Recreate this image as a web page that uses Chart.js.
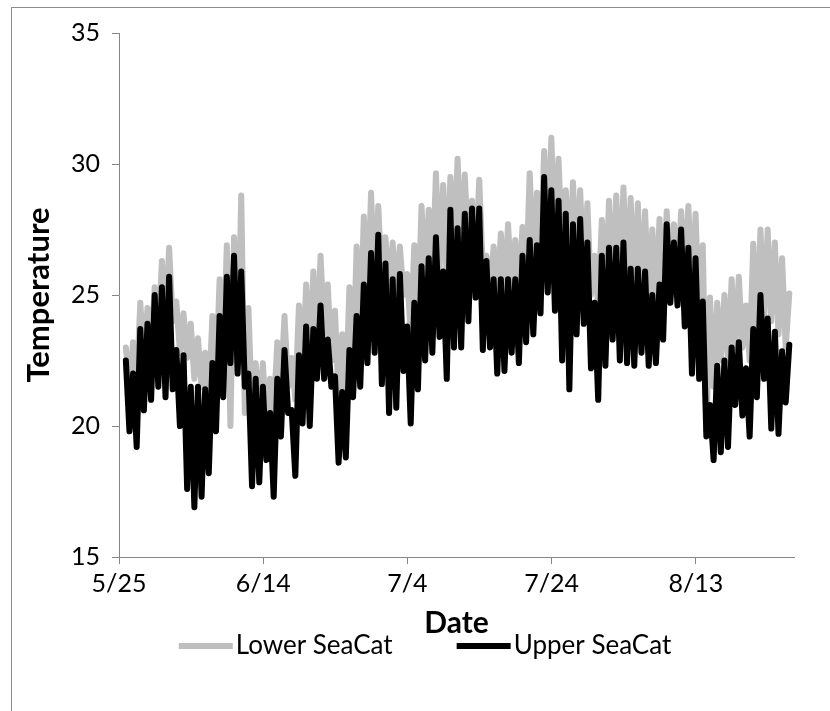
<!DOCTYPE html>
<html>
<head>
<meta charset="utf-8">
<script src="https://cdn.jsdelivr.net/npm/chart.js@4.4.1/dist/chart.umd.min.js"></script>
<style>
  html, body { margin: 0; padding: 0; background: #ffffff; }
  #wrap { position: relative; width: 830px; height: 711px; overflow: hidden; }
  #frame { position: absolute; left: 11px; top: 7px; width: 840px; height: 720px;
           border-left: 1px solid #8c8c8c; border-top: 1px solid #8c8c8c; }
  #c { position: absolute; left: 0; top: 0; }
</style>
</head>
<body>
<div id="wrap">
  <div id="frame"></div>
  <canvas id="c" width="830" height="711"></canvas>
</div>
<script>
// Daily water temperature, 25 May onward (day 0 = 5/25).
// For each day: the afternoon high and the following night's low.
const seriesNames = ['Lower SeaCat', 'Upper SeaCat'];
const tickLabels = ['5/25', '6/14', '7/4', '7/24', '8/13'];

const lowerHigh = [
  23.0, 23.2, 24.7, 24.5, 25.3, 26.3, 26.8, 24.75, 24.3, 23.9,
  23.35, 22.8, 24.2, 25.6, 26.9, 27.2, 28.8, 24.5, 22.4, 22.4,
  21.8, 23.2, 24.2, 22.6, 24.6, 25.4, 25.9, 26.5, 25.4, 24.4,
  23.5, 25.3, 26.85, 28.0, 28.9, 28.4, 27.2, 27.0, 26.85, 25.8,
  26.9, 28.4, 28.25, 29.65, 29.2, 29.5, 30.2, 29.6, 28.6, 29.4,
  26.5, 26.85, 27.35, 27.7, 27.1, 27.6, 29.65, 28.9, 30.5, 31.0,
  30.2, 29.0, 29.3, 29.0, 28.5, 26.5, 27.86, 28.6, 28.8, 29.1,
  28.7, 28.5, 28.2, 27.5, 27.9, 28.2, 27.7, 28.2, 28.4, 28.1,
  26.9, 24.9, 24.7, 25.0, 25.6, 25.7, 24.6, 26.96, 27.5, 27.5,
  27.0, 26.4, 25.06
];
const lowerLow = [
  21.5, 21.5, 22.5, 22.8, 23.5, 23.8, 24.0, 22.8, 22.6, 21.8,
  21.5, 21.0, 21.8, 22.5, 20.0, 22.5, 20.5, 20.5, 20.5, 20.0,
  20.5, 21.5, 21.5, 21.0, 22.0, 22.5, 23.0, 23.5, 22.5, 21.0,
  21.0, 22.0, 23.5, 24.5, 25.0, 25.5, 25.0, 25.0, 25.0, 23.5,
  24.0, 25.5, 25.5, 26.0, 25.5, 26.5, 26.5, 26.5, 26.0, 26.0,
  25.0, 25.0, 25.0, 25.0, 25.0, 25.5, 26.0, 26.0, 27.0, 27.0,
  26.5, 26.0, 26.0, 25.5, 25.0, 24.5, 25.0, 25.0, 25.0, 25.0,
  24.8, 24.7, 24.7, 24.5, 24.8, 25.5, 25.5, 25.5, 25.0, 24.0,
  19.8, 21.5, 22.5, 22.5, 23.0, 23.0, 22.5, 23.5, 24.0, 24.0,
  23.5, 23.0
];
const upperHigh = [
  22.5, 22.0, 23.7, 23.9, 25.0, 25.3, 25.7, 22.9, 22.7, 21.5,
  21.5, 21.4, 22.4, 24.2, 25.7, 26.5, 25.9, 22.0, 21.8, 21.5,
  20.5, 21.8, 22.9, 20.6, 22.7, 23.8, 23.7, 24.6, 23.3, 21.9,
  21.3, 22.9, 24.2, 25.4, 26.6, 27.3, 26.2, 25.6, 25.8, 23.8,
  24.7, 26.1, 26.4, 27.2, 25.9, 28.25, 27.55, 28.1, 28.3, 28.3,
  26.3, 25.6, 25.6, 25.6, 25.6, 26.5, 27.1, 26.9, 29.5, 29.0,
  28.6, 28.1, 27.7, 27.9, 27.0, 24.7, 26.5, 26.8, 26.8, 27.0,
  26.0, 26.0, 25.9, 25.0, 25.4, 27.7, 27.0, 27.5, 26.8, 26.4,
  24.75, 20.8, 22.3, 22.5, 23.0, 23.2, 22.2, 23.7, 25.0, 24.1,
  23.6, 22.85, 23.1
];
const upperLow = [
  19.8, 19.2, 20.6, 21.0, 21.5, 21.1, 21.4, 20.0, 17.6, 16.9,
  17.3, 18.2, 19.8, 21.1, 22.4, 22.0, 21.5, 17.7, 17.85, 18.7,
  17.3, 19.6, 20.5, 18.1, 20.1, 20.0, 21.8, 21.8, 21.5, 18.6,
  18.8, 21.1, 21.5, 22.4, 22.8, 21.6, 20.5, 20.7, 22.1, 20.1,
  21.4, 22.5, 22.8, 23.4, 21.8, 23.0, 23.0, 24.0, 24.9, 22.9,
  23.0, 22.0, 22.1, 22.8, 22.4, 23.2, 23.5, 24.3, 25.1, 24.4,
  22.5, 21.4, 23.5, 23.9, 22.2, 21.0, 22.3, 23.3, 22.5, 22.4,
  22.3, 22.8, 22.3, 22.4, 23.3, 24.7, 24.6, 23.8, 22.0, 21.8,
  19.6, 18.7, 19.0, 19.2, 20.8, 20.4, 19.6, 21.1, 21.8, 19.9,
  19.7, 20.9
];

// Highs fall late in each day, lows about half a day later.
function dailyPoints(highs, lows) {
  const pts = [];
  highs.forEach((h, day) => {
    pts.push({ x: day + 0.95, y: h });
    if (day < lows.length) pts.push({ x: day + 1.45, y: lows[day] });
  });
  return pts;
}

const AXIS_GREY = '#868686';
const FONT = 'Lato, "Open Sans", sans-serif';

// Legend drawn under the axis title, overlapping it slightly.
const bottomLegend = {
  id: 'bottomLegend',
  afterDraw(chart) {
    const ctx = chart.ctx;
    const y = 646;
    ctx.save();
    ctx.font = '26px ' + FONT;
    ctx.textBaseline = 'middle';
    const lineLen = 54, gapText = 3, gapItem = 64;
    const items = chart.data.datasets.map(ds => ({
      label: ds.label, color: ds.borderColor, width: ds.borderWidth,
      textW: ctx.measureText(ds.label).width
    }));
    let total = 0;
    items.forEach((it, i) => { total += lineLen + gapText + it.textW + (i ? gapItem : 0); });
    let x = 425 - total / 2;
    items.forEach((it, i) => {
      if (i) x += gapItem;
      ctx.strokeStyle = it.color;
      ctx.lineWidth = it.width;
      ctx.lineCap = 'butt';
      ctx.beginPath();
      ctx.moveTo(x, y);
      ctx.lineTo(x + lineLen, y);
      ctx.stroke();
      x += lineLen + gapText;
      ctx.fillStyle = '#000000';
      ctx.fillText(it.label, x, y);
      x += it.textW;
    });
    ctx.restore();
  }
};

new Chart(document.getElementById('c'), {
  type: 'line',
  data: {
    datasets: [
      {
        label: seriesNames[0],
        data: dailyPoints(lowerHigh, lowerLow),
        borderColor: '#bfbfbf',
        backgroundColor: '#bfbfbf',
        borderWidth: 6,
        order: 2
      },
      {
        label: seriesNames[1],
        data: dailyPoints(upperHigh, upperLow),
        borderColor: '#000000',
        backgroundColor: '#000000',
        borderWidth: 6,
        order: 1
      }
    ]
  },
  options: {
    responsive: false,
    animation: false,
    events: [],
    layout: { padding: { left: 0, right: 36, top: 33, bottom: 0 } },
    elements: {
      point: { radius: 0 },
      line: { tension: 0, borderJoinStyle: 'round', borderCapStyle: 'round', fill: false }
    },
    plugins: {
      legend: { display: false },
      tooltip: { enabled: false }
    },
    scales: {
      x: {
        type: 'linear',
        min: 0,
        max: 93.6,
        afterFit(scale) { scale.height = 154; },
        border: { display: true, color: AXIS_GREY, width: 1 },
        grid: { display: true, drawOnChartArea: false, drawTicks: true, tickLength: 7, color: AXIS_GREY },
        ticks: {
          stepSize: 20,
          includeBounds: false,
          autoSkip: false,
          maxRotation: 0,
          padding: 5,
          color: '#000000',
          font: { family: FONT, size: 25 },
          callback: (v) => tickLabels[Math.round(v / 20)] ?? ''
        },
        title: {
          display: true,
          text: 'Date',
          color: '#000000',
          font: { family: FONT, size: 30, weight: 'bold' },
          padding: { top: 0, bottom: 70 }
        }
      },
      y: {
        min: 15,
        max: 35,
        afterFit(scale) { scale.width = 119; },
        border: { display: true, color: AXIS_GREY, width: 1 },
        grid: { display: true, drawOnChartArea: false, drawTicks: true, tickLength: 7, color: AXIS_GREY },
        ticks: {
          stepSize: 5,
          padding: 12,
          color: '#000000',
          font: { family: FONT, size: 25 }
        },
        title: {
          display: true,
          text: 'Temperature',
          color: '#000000',
          font: { family: FONT, size: 31, weight: 'bold' },
          padding: { top: 20, bottom: 0 }
        }
      }
    }
  },
  plugins: [bottomLegend]
});
</script>
</body>
</html>
